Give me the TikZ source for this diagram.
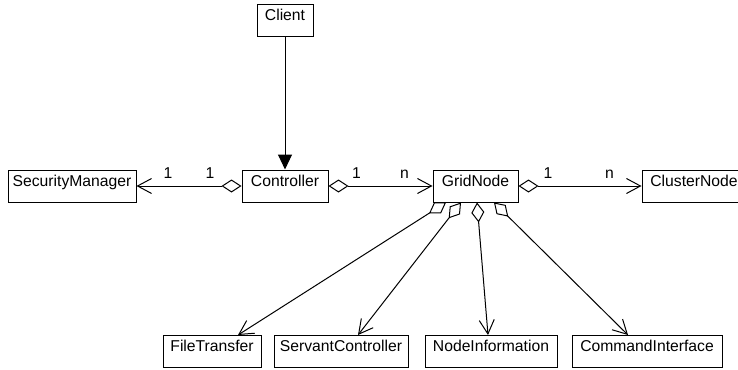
\documentclass[tikz,border=0pt]{standalone}
\usepackage{fontspec}
\setmainfont{Liberation Sans}
\usepackage{tikz}
\usetikzlibrary{arrows.meta,calc,positioning}
\tikzset{
  clase/.style={
    draw=black,
    line width=.5pt,
    fill=white,
    align=center,
    minimum height=16pt,
    inner xsep=2pt,
    inner ysep=1pt,
    text height=6pt,
    text depth=6pt,
    font=\fontsize{7.85}{9.4}\selectfont
  },
  mult/.style={
    above=3.75pt,
    inner sep=0pt,
    font=\fontsize{7.85}{9.4}\selectfont
  },
  agreg/.style={
    {Diamond[open,length=10pt,width=6.5pt]}-{Straight Barb[length=7pt,width=7.5pt]},
    line width=.5pt
  },
  hereda/.style={
    -{Triangle[length=7.5pt,width=7pt]},
    line width=.5pt
  }
}
\begin{document}
\begin{tikzpicture}[x=.5pt,y=-.5pt]
\useasboundingbox (0,0) rectangle (738,369);
\clip (0,0) rectangle (738,369);
% clases
\node[clase,minimum width=28pt] (client) at (285,21) {Client};
\node[clase,minimum width=64pt] (sec) at (72,186) {SecurityManager};
\node[clase,minimum width=43pt] (ctrl) at (285,186) {Controller};
\node[clase,minimum width=42.5pt] (grid) at (475.5,186) {GridNode};
\node[clase,minimum width=52pt] (clus) at (694,186) {ClusterNode};
\node[clase,minimum width=49pt] (ft) at (212,351.5) {FileTransfer};
\node[clase,minimum width=67pt] (sc) at (341,351.5) {ServantController};
\node[clase,minimum width=66pt] (ni) at (491,351.5) {NodeInformation};
\node[clase,minimum width=75pt] (ci) at (647,351.5) {CommandInterface};
% relaciones
\draw[hereda] (client) -- (ctrl);
\draw[agreg] (ctrl) -- node[mult,pos=.3] (m1) {1} node[mult,pos=.7] (m2) {1} (sec);
\draw[agreg] (ctrl) -- node[mult,pos=.27] (m3) {1} node[mult,pos=.73] (m4) {n} (grid);
\draw[agreg] (grid) -- node[mult,pos=.24] (m5) {1} node[mult,pos=.74] (m6) {n} (clus);
\draw[agreg] ($(grid.south)+(-29.5,0)$) -- ($(ft.north)+(26,0)$);
\draw[agreg] ($(grid.south)+(-14.5,0)$) -- ($(sc.north)+(17,0)$);
\draw[agreg] ($(grid.south)+(1.5,0)$) -- ($(ni.north)+(-3,0)$);
\draw[agreg] ($(grid.south)+(18.5,0)$) -- ($(ci.north)+(-19,0)$);
\end{tikzpicture}
\end{document}
